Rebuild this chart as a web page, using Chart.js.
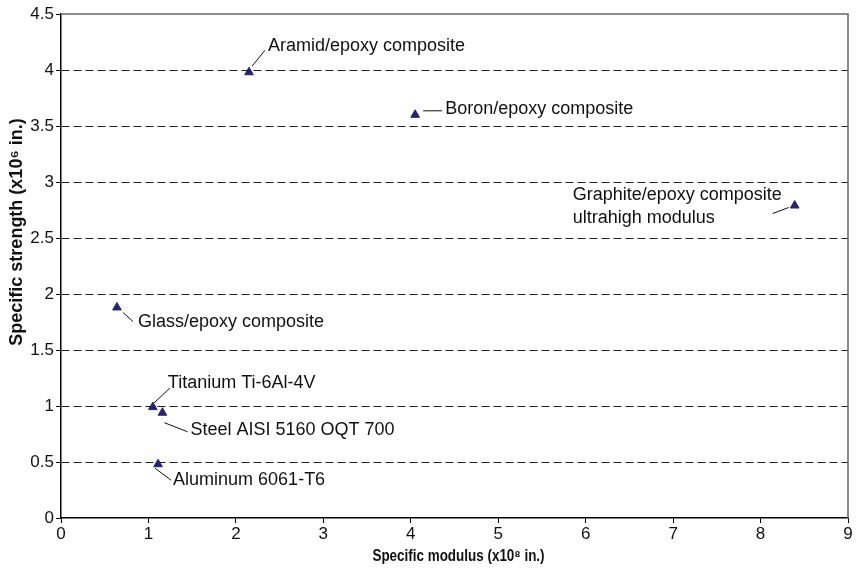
<!DOCTYPE html>
<html>
<head>
<meta charset="utf-8">
<script src="https://cdn.jsdelivr.net/npm/chart.js@4"></script>
<style>
  html, body { margin: 0; padding: 0; background: #fff; }
  #wrap { width: 856px; height: 573px; }
</style>
</head>
<body>
<div id="wrap"><canvas id="chart" width="856" height="573"></canvas></div>
<script>
// values
var materials = ["Aramid/epoxy composite", "Boron/epoxy composite", "Graphite/epoxy composite\nultrahigh modulus",
    "Glass/epoxy composite", "Titanium Ti-6Al-4V", "Steel AISI 5160 OQT 700", "Aluminum 6061-T6"];
var specificModulus = [2.15, 4.05, 8.39, 0.64, 1.05, 1.16, 1.11];
var specificStrength = [3.98, 3.60, 2.79, 1.88, 0.99, 0.94, 0.48];
var xTicks = [0, 1, 2, 3, 4, 5, 6, 7, 8, 9];
var yTicks = [0, 0.5, 1, 1.5, 2, 2.5, 3, 3.5, 4, 4.5];
var xTitle = "Specific modulus (x10\u2078 in.)";
var yTitle = "Specific strength (x10\u2076 in.)";

// leader line start/end and text anchor, pixels from the marker
var calloutOffsets = [
    { l1: [3, -6], l2: [16, -22], t: [19, -26] },
    { l1: [8, -4], l2: [27, -4], t: [30, -6] },
    { l1: [-6, 2], l2: [-22, 8], t: [-222, -10] },
    { l1: [6, 5], l2: [16, 14], t: [21, 15] },
    { l1: [1, -4], l2: [17, -19], t: [15, -24] },
    { l1: [2, 10], l2: [25, 19], t: [28, 17] },
    { l1: [-3, 4], l2: [13, 16], t: [15, 16] }
];

var FONT = "'Liberation Sans', Arial, sans-serif";
var MARKER = "#24246e";

var points = [];
for (var i = 0; i < materials.length; i++) {
    points.push({ x: specificModulus[i], y: specificStrength[i] });
}

var frameAndCallouts = {
    id: "frameAndCallouts",
    beforeDatasetsDraw: function (chart) {
        var ctx = chart.ctx;
        var a = chart.chartArea;
        ctx.save();
        ctx.strokeStyle = "#666";
        ctx.lineWidth = 1.5;
        ctx.beginPath();
        ctx.moveTo(a.left, a.top);
        ctx.lineTo(a.right, a.top);
        ctx.lineTo(a.right, a.bottom);
        ctx.stroke();
        ctx.restore();
    },
    afterDatasetsDraw: function (chart) {
        var ctx = chart.ctx;
        var a = chart.chartArea;
        var meta = chart.getDatasetMeta(0);
        ctx.save();
        ctx.font = "18px " + FONT;
        ctx.fillStyle = "#111";
        ctx.strokeStyle = "#111";
        ctx.lineWidth = 1;
        ctx.textBaseline = "middle";
        ctx.textAlign = "left";
        meta.data.forEach(function (pt, i) {
            var o = calloutOffsets[i];
            ctx.beginPath();
            ctx.moveTo(pt.x + o.l1[0], pt.y + o.l1[1]);
            ctx.lineTo(pt.x + o.l2[0], pt.y + o.l2[1]);
            ctx.stroke();
            var lines = materials[i].split("\n");
            lines.forEach(function (s, k) {
                ctx.fillText(s, pt.x + o.t[0], pt.y + o.t[1] + k * 23);
            });
        });
        ctx.restore();

        // axis titles
        ctx.save();
        ctx.fillStyle = "#111";
        ctx.font = "bold 16px " + FONT;
        ctx.textAlign = "center";
        ctx.textBaseline = "middle";
        ctx.translate((a.left + a.right) / 2 + 4, 557);
        ctx.scale(0.84, 1);
        ctx.fillText(xTitle, 0, 0);
        ctx.restore();

        ctx.save();
        ctx.fillStyle = "#111";
        ctx.font = "bold 18px " + FONT;
        ctx.textAlign = "center";
        ctx.textBaseline = "middle";
        ctx.translate(17, 232);
        ctx.rotate(-Math.PI / 2);
        ctx.fillText(yTitle, 0, 0);
        ctx.restore();
    }
};

var ctx = document.getElementById("chart").getContext("2d");
new Chart(ctx, {
    type: "scatter",
    data: {
        datasets: [{
            data: points,
            pointStyle: "triangle",
            pointRadius: 5,
            backgroundColor: MARKER,
            borderColor: MARKER,
            borderWidth: 1
        }]
    },
    options: {
        responsive: false,
        animation: false,
        layout: { padding: { top: 14, right: 8, left: 0, bottom: 0 } },
        plugins: { legend: { display: false }, tooltip: { enabled: false } },
        scales: {
            x: {
                type: "linear",
                min: 0,
                max: 9,
                afterFit: function (scale) { scale.height = 55; },
                afterBuildTicks: function (scale) {
                    scale.ticks = xTicks.map(function (v) { return { value: v }; });
                },
                border: { color: "#000", width: 1.5 },
                grid: { drawOnChartArea: false, tickLength: 5, tickColor: "#000" },
                ticks: { color: "#111", padding: 1, font: { family: FONT, size: 17 } },
                title: { display: false }
            },
            y: {
                type: "linear",
                min: 0,
                max: 4.5,
                afterFit: function (scale) { scale.width = 61; },
                afterBuildTicks: function (scale) {
                    scale.ticks = yTicks.map(function (v) { return { value: v }; });
                },
                border: { color: "#000", width: 1.5, dash: [8, 4] },
                grid: {
                    tickLength: 5,
                    tickColor: "#000",
                    tickBorderDash: [],
                    color: function (c) {
                        if (!c.tick || c.tick.value === 0 || c.tick.value === 4.5) return "rgba(0,0,0,0)";
                        return "#222";
                    }
                },
                ticks: {
                    color: "#111",
                    padding: 2,
                    font: { family: FONT, size: 17 },
                    callback: function (v) { return String(v); }
                },
                title: { display: false }
            }
        }
    },
    plugins: [frameAndCallouts]
});
</script>
</body>
</html>
